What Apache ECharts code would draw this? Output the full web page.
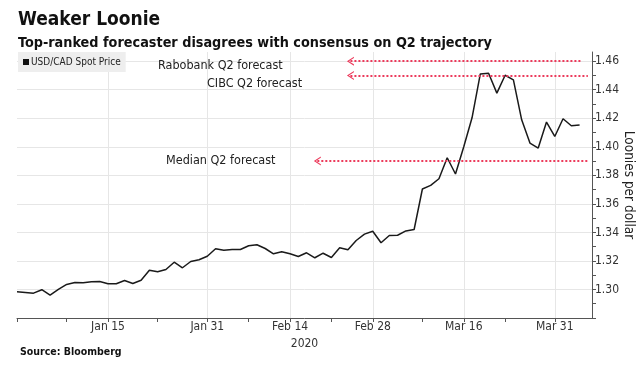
<!DOCTYPE html>
<html><head><meta charset="utf-8">
<script src="https://cdn.jsdelivr.net/npm/echarts@6/dist/echarts.min.js"></script>
<style>html,body{margin:0;padding:0;background:#fff}#c{width:642px;height:373px}</style>
</head><body><div id="c"></div><script>
// Weekday dates (category index = position on x axis)
const dates = ['Dec 31','Jan 1','Jan 2','Jan 3','Jan 6','Jan 7','Jan 8','Jan 9','Jan 10','Jan 13','Jan 14','Jan 15','Jan 16','Jan 17','Jan 20','Jan 21','Jan 22','Jan 23','Jan 24','Jan 27','Jan 28','Jan 29','Jan 30','Jan 31','Feb 3','Feb 4','Feb 5','Feb 6','Feb 7','Feb 10','Feb 11','Feb 12','Feb 13','Feb 14','Feb 17','Feb 18','Feb 19','Feb 20','Feb 21','Feb 24','Feb 25','Feb 26','Feb 27','Feb 28','Mar 2','Mar 3','Mar 4','Mar 5','Mar 6','Mar 9','Mar 10','Mar 11','Mar 12','Mar 13','Mar 16','Mar 17','Mar 18','Mar 19','Mar 20','Mar 23','Mar 24','Mar 25','Mar 26','Mar 27','Mar 30','Mar 31','Apr 1','Apr 2','Apr 3','Apr 6'];
const usdcad = [1.2984,1.2979,1.2974,1.2998,1.2960,1.3000,1.3035,1.3049,1.3047,1.3054,1.3056,1.3040,1.3040,1.3063,1.3042,1.3065,1.3135,1.3124,1.3140,1.3191,1.3152,1.3196,1.3208,1.3233,1.3285,1.3275,1.3280,1.3280,1.3306,1.3313,1.3287,1.3250,1.3264,1.3250,1.3231,1.3257,1.3222,1.3254,1.3224,1.3292,1.3278,1.3343,1.3388,1.3408,1.3327,1.3378,1.3380,1.3410,1.3420,1.3704,1.3729,1.3776,1.3923,1.3809,1.4000,1.4203,1.4510,1.4515,1.4376,1.4501,1.4469,1.4189,1.4026,1.3991,1.4173,1.4072,1.4196,1.4147,1.4152];
const labelDates = ['Jan 15','Jan 31','Feb 14','Feb 28','Mar 16','Mar 31'];
const tickDates = ['Dec 31','Jan 8','Jan 15','Jan 23','Jan 31','Feb 7','Feb 14','Feb 21','Feb 28','Mar 9','Mar 16','Mar 23','Mar 31'];
const yearLabel = '2020';
const forecastNames = ['Rabobank Q2 forecast','CIBC Q2 forecast','Median Q2 forecast'];
const forecastValues = [1.46, 1.45, 1.39];
const arrowStart = [40.3, 40.3, 36.3];
const arrowEnd = [68.1, 69.0, 69.0];

const FONT = '"DejaVu Sans Condensed","DejaVu Sans",sans-serif';
const labelIdx = labelDates.map(d => dates.indexOf(d));
const tickIdx = tickDates.map(d => dates.indexOf(d));
const RED = '#ec3b5c';
const GRID = '#e6e6e6';
const NONE = 'rgba(0,0,0,0)';
const chevron = 'path://M5,0 L10,10 L8.6,10 L5,2.8 L1.4,10 L0,10 Z';

const chart = echarts.init(document.getElementById('c'), null, {renderer: 'canvas'});
chart.setOption({
  animation: false,
  backgroundColor: '#ffffff',
  title: [
    {text: 'Weaker Loonie', left: 13, top: 6, textStyle: {fontFamily: FONT, fontWeight: 'bold', fontSize: 19, color: '#111'}},
    {text: 'Top-ranked forecaster disagrees with consensus on Q2 trajectory', left: 13, top: 31, textStyle: {fontFamily: FONT, fontWeight: 'bold', fontSize: 14.3, color: '#111'}},
    {text: 'Source: Bloomberg', left: 15, top: 342, textStyle: {fontFamily: FONT, fontWeight: 'bold', fontSize: 10.5, color: '#111'}}
  ],
  legend: {
    data: ['USD/CAD Spot Price'], left: 18, top: 52, icon: 'rect', itemWidth: 6, itemHeight: 6, itemGap: 4,
    backgroundColor: '#eeeeee', padding: [5, 5, 5, 5], selectedMode: false,
    textStyle: {fontFamily: FONT, fontSize: 10, color: '#222', padding: [0, 0, 0, -3]}
  },
  grid: {left: 17, right: 50, top: 52, bottom: 55, containLabel: false, outerBoundsMode: 'none'},
  xAxis: [
    {type: 'value', min: 0, max: 69.5,
      axisLine: {show: true, onZero: false, lineStyle: {color: '#555', width: 1}},
      axisTick: {show: true, customValues: tickIdx, length: 4, lineStyle: {color: '#555'}},
      axisLabel: {customValues: labelIdx, formatter: v => dates[Math.round(v)], fontFamily: FONT, fontSize: 12, color: '#333', margin: 3},
      splitLine: {show: false},
      name: yearLabel, nameLocation: 'middle', nameGap: 15, nameTextStyle: {fontFamily: FONT, fontSize: 12, color: '#333'}
    },
    {type: 'value', min: 0, max: 69.5, position: 'bottom',
      axisLine: {show: false, onZero: false}, axisTick: {show: false, customValues: labelIdx}, axisLabel: {show: false, customValues: labelIdx},
      splitLine: {show: true, lineStyle: {color: GRID, width: 1}}
    }
  ],
  yAxis: {
    type: 'value', position: 'right', min: 1.28, max: 1.4664, interval: 0.01,
    axisLine: {show: true, onZero: false, lineStyle: {color: '#555', width: 1}},
    axisTick: {show: true, length: 4, lineStyle: {color: '#555'}},
    minorTick: {show: false},
    axisLabel: {fontFamily: FONT, fontSize: 12, color: '#333', margin: 3, showMaxLabel: false,
      formatter: v => { const k = Math.round(v * 100); return (k % 2 === 0 && k >= 130 && k <= 146 && Math.abs(v * 100 - k) < 1e-4) ? v.toFixed(2) : ''; }},
    splitLine: {show: true, lineStyle: {color: [GRID, NONE], width: 1}},
    name: 'Loonies per dollar', nameLocation: 'middle', nameRotate: -90, nameGap: 29, nameMoveOverlap: false,
    nameTextStyle: {fontFamily: FONT, fontSize: 13.5, color: '#222'}
  },
  graphic: [
    {type: 'text', left: 158, top: 59, z: 100, style: {text: forecastNames[0], font: '12.5px ' + FONT, fill: '#222'}},
    {type: 'text', left: 207, top: 77, z: 100, style: {text: forecastNames[1], font: '12.5px ' + FONT, fill: '#222'}},
    {type: 'text', left: 166, top: 154, z: 100, style: {text: forecastNames[2], font: '12.5px ' + FONT, fill: '#222'}}
  ],
  series: [{
    name: 'USD/CAD Spot Price', type: 'line', xAxisIndex: 0, symbol: 'none',
    data: usdcad.map((v, i) => [i, v]),
    lineStyle: {color: '#1a1a1a', width: 1.5}, itemStyle: {color: '#111'},
    z: 3,
    markLine: {
      silent: true, animation: false,
      symbol: [chevron, 'none'], symbolSize: [9, 7],
      label: {show: false},
      lineStyle: {color: RED, type: 'dotted', width: 2},
      emphasis: {disabled: true},
      data: forecastValues.map((v, k) => [{coord: [arrowStart[k], v]}, {coord: [arrowEnd[k], v]}])
    }
  }]
});
</script></body></html>
